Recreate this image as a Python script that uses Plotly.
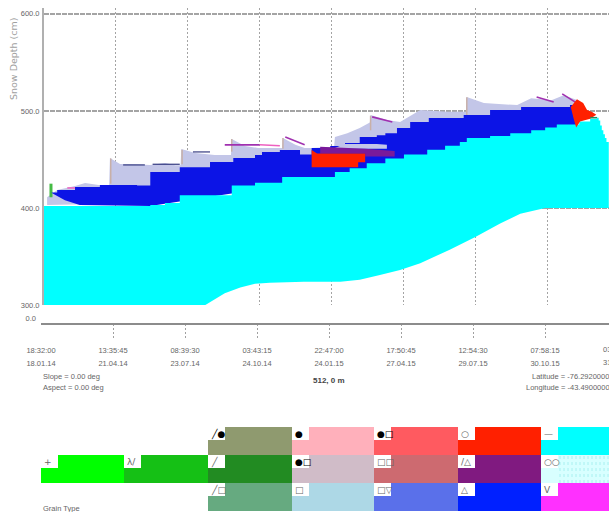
import plotly.graph_objects as go

W, H = 609, 512

# ---------- data (x in days since the first time stamp, y in cm) ----------
tick_days = [0, 92.79, 185.58, 278.37, 371.16, 463.95, 556.74, 649.53, 742.32]
tick_times = ["18:32:00", "13:35:45", "08:39:30", "03:43:15", "22:47:00", "17:50:45", "12:54:30", "07:58:15", "03:02:00"]
tick_dates = ["18.01.14", "21.04.14", "23.07.14", "24.10.14", "24.01.15", "27.04.15", "29.07.15", "30.10.15", "31.01.16"]
depth_ticks = [300, 400, 500, 600]

ice_top_days = [0, 137, 156, 175, 242, 272, 307, 375, 394, 416, 440, 464, 494, 517, 536, 545, 575, 601, 628, 646, 661, 690, 704, 713, 715, 717, 719, 721, 723, 725, 728]
ice_top_cm = [402, 403, 405, 413, 423, 426, 432, 437, 441, 446, 451, 455, 460, 464, 468, 472, 474, 477, 480, 483, 486, 489, 492, 493, 490, 485, 480, 476, 472, 468, 462]
ice_bottom_days = [0, 190, 208, 220, 233, 253, 272, 291, 335, 382, 407, 433, 459, 485, 523, 556, 588, 614, 646, 728]
ice_bottom_cm = [295, 295, 300, 306, 312, 318, 322, 323, 324, 324, 326, 331, 336, 343, 357, 370, 384, 394, 400, 400]

depth_hoar_days = [10, 17, 40, 72, 120, 137, 175, 214, 244, 272, 281, 304, 330, 345, 369, 388, 407, 429, 440, 455, 472, 496, 541, 575, 615, 678, 687]
depth_hoar_cm = [416, 418.5, 421.6, 423.7, 423, 437, 442, 447.4, 451.5, 454.6, 457.7, 459.7, 455, 461.8, 463.9, 467, 473, 475, 477, 482.4, 488.6, 492.7, 495.8, 501, 504, 506, 506]
depth_hoar_floor_days = [10, 27, 46, 137, 688]
depth_hoar_floor_cm = [415.4, 408, 403, 402, 470]

faceted_days = [4, 17, 40, 53, 79, 84, 85, 98, 117, 137, 156, 169, 176, 177, 195, 220, 241, 242, 259, 276, 285, 307, 308, 324, 336, 345, 374, 375, 391, 407, 420, 421, 442, 459, 485, 520, 544, 545, 567, 610, 628, 654, 670, 678, 688]
faceted_cm = [411, 418.5, 422.6, 425.7, 422.6, 422.6, 451.5, 445.3, 445, 444.3, 446.3, 444, 444, 460.8, 456.6, 454.6, 454.6, 471, 463.9, 461.8, 461.8, 461.8, 472, 465, 461.8, 461.8, 463, 473, 477, 482.4, 488, 495.8, 490.7, 488.6, 501, 499, 499, 514.4, 508, 506, 513, 511, 516, 514, 511]
faceted_floor_days = [4, 137, 688]
faceted_floor_cm = [403, 405, 470]
tongue_days = [369, 388, 429, 442, 442, 429, 388, 369]
tongue_cm = [460, 466, 466, 465, 461, 461, 461, 460]

crust_days = [345, 352, 414, 414, 405, 405, 345]
crust_cm = [459.7, 456, 456, 447, 447, 442, 442]
melt_days = [356, 414, 452, 452, 414, 414, 356]
melt_cm = [463, 461, 458.7, 453, 453, 456, 456]
top_crust_days = [679, 687, 695, 700, 706, 712, 704, 691, 686, 683]
top_crust_cm = [504, 512, 508, 501, 499, 496, 492, 489, 483, 491]

purple_days = [311, 336, None, 423, 449, None, 233, 278, None, 635, 657, None, 668, 691]
purple_cm = [473, 465, None, 493.8, 488.6, None, 465, 465, None, 514.4, 509.2, None, 517.5, 506]
pink_days = [278, 304, None, 30, 43]
pink_cm = [465, 464, None, 420.6, 420.6]
navy_days = [102, 130, None, 140, 175, None, 192, 214]
navy_cm = [444.3, 444.3, None, 445, 445, None, 457.7, 457.7]
tan_days = [86, 86, None, 178, 178, None, 242, 242, None, 308, 308, None, 421, 421, None, 545, 545]
tan_cm = [425, 451, None, 445, 460, None, 458, 471, None, 461, 472, None, 480, 495, None, 495, 514]
green_days = [9, 9]
green_cm = [411, 425]
tip_days = [704, 713]
tip_cm = [493, 493]

legend_colors = {
    "top": [None, None, "#8f9a6f", "#ffb0bb", "#ff5a60", "#ff2000", "#00ffff"],
    "mid": ["#00ff00", "#15c015", "#228b22", "#d0bcc8", "#cd6a70", "#801a80", "#d8ffff"],
    "bot": [None, None, "#66aa80", "#add8e6", "#5a70ea", "#0020ff", "#ff30ff"],
}
legend_labels = {
    "top": [None, None, "╱●", "●", "●□", "○", "—"],
    "mid": ["+", "λ/", "╱", "●□", "□□", "/△", "○○"],
    "bot": [None, None, "╱□", "□", "□▽", "△", "V"],
}

# ---------- colours / layout helpers ----------
TXT = "#666666"
GRID = "#a4a4a4"
FONT = "Liberation Sans"


def fx(px):
    return px / W


def fy(py):
    return 1 - py / H


fig = go.Figure()


def band(x_base, y_base, x_top, y_top, color, shape="linear"):
    fig.add_trace(go.Scatter(x=x_base, y=y_base, mode="lines", line=dict(width=0), showlegend=False, hoverinfo="skip"))
    fig.add_trace(go.Scatter(x=x_top, y=y_top, mode="lines", line=dict(width=0, shape=shape), fill="tonexty",
                             fillcolor=color, showlegend=False, hoverinfo="skip"))


def poly(x, y, color):
    fig.add_trace(go.Scatter(x=x, y=y, mode="lines", line=dict(width=0), fill="toself", fillcolor=color,
                             showlegend=False, hoverinfo="skip"))


def stroke(x, y, color, width):
    fig.add_trace(go.Scatter(x=x, y=y, mode="lines", line=dict(color=color, width=width), showlegend=False,
                             hoverinfo="skip", connectgaps=False))


LAV = "#c3c6e8"
band(faceted_floor_days, faceted_floor_cm, faceted_days, faceted_cm, LAV)
stroke(tan_days, tan_cm, "#c8b0a8", 1.5)
stroke(purple_days, purple_cm, "#a030b0", 1.6)
stroke(pink_days, pink_cm, "#ee60c0", 1.5)
stroke(navy_days, navy_cm, "#343a80", 1.2)
stroke(green_days, green_cm, "#44bb44", 3)
band(depth_hoar_floor_days, depth_hoar_floor_cm, depth_hoar_days, depth_hoar_cm, "#0c14e6", "hv")
band(ice_bottom_days, ice_bottom_cm, ice_top_days, ice_top_cm, "#00ffff", "hv")
poly(tongue_days, tongue_cm, LAV)
poly(melt_days, melt_cm, "#7a1a9a")
poly(crust_days, crust_cm, "#ff2000")
poly(top_crust_days, top_crust_cm, "#ff2000")
stroke(tip_days, tip_cm, "#2a8a5a", 1.5)

# ---------- lower time axis: invisible carrier traces so the axes exist ----------
fig.add_trace(go.Scatter(x=[0], y=[0], xaxis="x2", yaxis="y2", mode="lines", showlegend=False, hoverinfo="skip"))
fig.add_trace(go.Scatter(x=[0], y=[0], xaxis="x3", yaxis="y2", mode="lines", showlegend=False, hoverinfo="skip"))

tick_font = dict(family=FONT, size=7.5, color=TXT)
x2_left, x2_days = 41, 732
layout = dict(
    template="none",
    width=W, height=H, margin=dict(l=0, r=0, t=0, b=0, pad=0), paper_bgcolor="white", plot_bgcolor="white",
    xaxis=dict(domain=[fx(44), 1], range=[0, 728.3], anchor="y", tickvals=tick_days, showticklabels=False, ticks="",
               showgrid=True, gridcolor=GRID, griddash="2px,2px", gridwidth=1, zeroline=False, showline=False,
               automargin=False),
    yaxis=dict(domain=[fy(305), fy(8)], range=[300, 606], anchor="x", tickvals=depth_ticks,
               ticktext=["%.1f" % v for v in depth_ticks], tickfont=tick_font, ticks="", showgrid=True,
               gridcolor=GRID, griddash="5px,1px", gridwidth=1.5, zeroline=False, showline=True, linecolor="#b0b0b0",
               linewidth=2, ticklabelstandoff=1, automargin=False),
    xaxis2=dict(domain=[fx(x2_left), 1], range=[0, x2_days], anchor="y2", tickvals=tick_days[:-1],
                ticktext=tick_times[:-1], tickfont=tick_font, ticks="", showgrid=True, gridcolor="#a0a0a0",
                griddash="2px,2px", zeroline=False, showline=False, ticklabelstandoff=6, automargin=False),
    xaxis3=dict(domain=[fx(x2_left), 1], range=[0, x2_days], anchor="y2", overlaying="x2", side="bottom",
                tickvals=tick_days[:-1], ticktext=tick_dates[:-1], tickfont=tick_font, ticks="", showgrid=False,
                zeroline=False, showline=False, ticklabelstandoff=19, automargin=False),
    yaxis2=dict(domain=[fy(338), fy(324)], range=[-1, 0], anchor="x2", tickvals=[0], ticktext=["0.0"],
                tickfont=tick_font, ticks="", showgrid=False, zeroline=True, zerolinecolor="#8c8c8c", zerolinewidth=2,
                showline=False, ticklabelposition="outside top", ticklabelstandoff=4, automargin=False),
)

annotations = []


def note(px, py, text, anchor="left", size=7.5, color=TXT, family=FONT, angle=0, bold=False):
    annotations.append(dict(xref="paper", yref="paper", x=fx(px), y=fy(py), text=("<b>%s</b>" % text) if bold else text,
                            showarrow=False, xanchor=anchor, yanchor="middle", textangle=angle,
                            font=dict(family=family, size=size, color=color)))


cut_px = x2_left + tick_days[-1] / x2_days * (W - x2_left)
note(cut_px, 349, tick_times[-1], "center")
note(cut_px, 362, tick_dates[-1], "center")
note(13, 59, "Snow Depth (cm)", "center", size=9.5, color="#a0a0a0", family="DejaVu Sans", angle=-90)
note(41, 376, "Slope = 0.00 deg")
note(41, 387, "Aspect = 0.00 deg")
note(311, 380, "512, 0 m", bold=True, size=8, color="#444444")
note(530, 376, "Latitude = -76.2920000")
note(524, 387, "Longitude = -43.4900000")
note(41, 508, "Grain Type", size=7.5)

# ---------- legend ----------
col_edges = [41, 124, 208, 292, 374, 458, 541, 624]
row_edges = {"top": (427, 455), "mid": (455, 483), "bot": (483, 511)}
shapes = []
for row, (y0, y1) in row_edges.items():
    for c, color in enumerate(legend_colors[row]):
        if color is None:
            continue
        x0, x1 = col_edges[c], col_edges[c + 1]
        shapes.append(dict(type="rect", xref="paper", yref="paper", x0=fx(x0), x1=fx(x1), y0=fy(y1), y1=fy(y0),
                           fillcolor=color, line=dict(width=0), layer="above"))
        shapes.append(dict(type="rect", xref="paper", yref="paper", x0=fx(x0), x1=fx(x0 + 17), y0=fy(y0 + 13), y1=fy(y0),
                           fillcolor="white", line=dict(width=0), layer="above"))
        label = legend_labels[row][c]
        note(x0 + 1, y0 + 7, label, size=9, color="#000000" if "●" in label else "#666666", family="DejaVu Sans")
for sx in range(560, 612, 4):
    shapes.append(dict(type="line", xref="paper", yref="paper", x0=fx(sx), x1=fx(sx), y0=fy(483), y1=fy(455),
                       line=dict(color="#a8f0f0", width=1, dash="dot"), layer="above"))

layout["annotations"] = annotations
layout["shapes"] = shapes
fig.update_layout(**layout)
fig.write_html("out.html", config={"displayModeBar": False},
               post_script="document.body.style.margin='0';document.body.style.overflow='hidden';")
